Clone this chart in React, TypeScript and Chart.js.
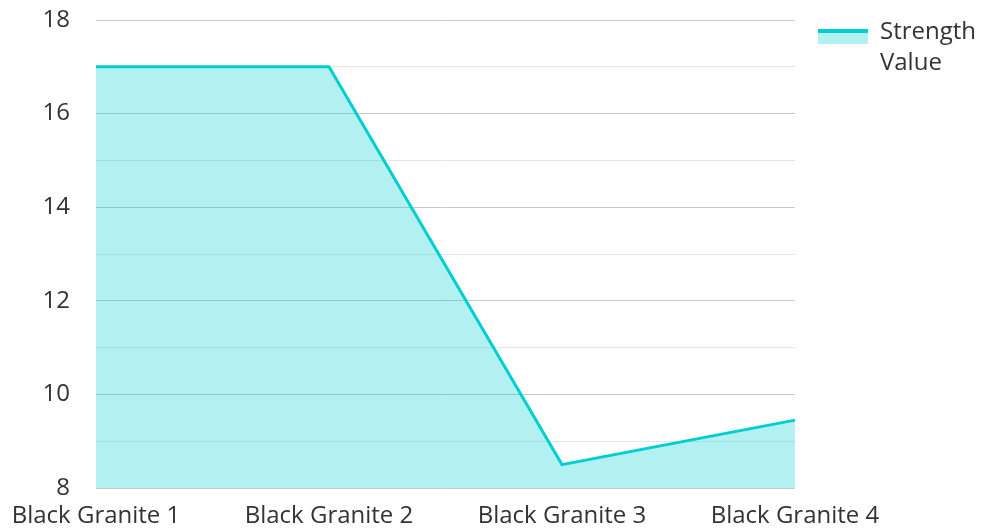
import React, { useEffect, useRef } from "react";
import { Chart, registerables } from "chart.js";

Chart.register(...registerables);

const categories = ["Black Granite 1", "Black Granite 2", "Black Granite 3", "Black Granite 4"];
const strengthValues = [17, 17, 8.5, 9.45];
const seriesLabel = "Strength Value";
const legendLines = ["Strength", "Value"];

const LINE = "#00CED1";
const FILL = "rgba(0, 206, 209, 0.3)";
const TEXT = "#333333";
const FONT = "'Open Sans', 'Noto Sans', sans-serif";

function makeLegendIcon(): HTMLCanvasElement {
  const c = document.createElement("canvas");
  c.width = 72;
  c.height = 24;
  const ctx = c.getContext("2d")!;
  ctx.fillStyle = FILL;
  ctx.fillRect(22, 9, 50, 15);
  ctx.fillStyle = LINE;
  ctx.fillRect(22, 9, 50, 4);
  return c;
}

export default function App() {
  const ref = useRef<HTMLCanvasElement | null>(null);

  useEffect(() => {
    document.body.style.margin = "0";
    if (!ref.current) return;
    const icon = makeLegendIcon();
    const chart = new Chart(ref.current, {
      type: "line",
      data: {
        labels: categories,
        datasets: [
          {
            label: seriesLabel,
            data: strengthValues,
            borderColor: LINE,
            backgroundColor: FILL,
            borderWidth: 3,
            fill: "start",
            pointRadius: 0,
            tension: 0,
          },
        ],
      },
      options: {
        animation: false,
        responsive: false,
        maintainAspectRatio: false,
        layout: { padding: 0 },
        plugins: {
          tooltip: { enabled: false },
          legend: {
            position: "right",
            align: "start",
            title: { display: true, text: "", font: { size: 1, lineHeight: 1 }, padding: { top: 18, bottom: 0 } },
            labels: {
              usePointStyle: true,
              pointStyle: icon as any,
              pointStyleWidth: 72,
              boxWidth: 72,
              boxHeight: 15,
              color: TEXT,
              font: { family: FONT, size: 24, lineHeight: 1.3 },
              padding: 1,
              generateLabels: (ch: any) => {
                const items = Chart.defaults.plugins.legend.labels.generateLabels(ch);
                return items.map((it: any) => ({ ...it, text: legendLines, pointStyle: icon }));
              },
            },
          },
        },
        scales: {
          x: {
            offset: false,
            grid: { display: false, drawTicks: false },
            border: { display: false },
            ticks: { color: TEXT, font: { family: FONT, size: 24 }, padding: 14, maxRotation: 0, autoSkip: false },
            afterFit: (s: any) => {
              s.height = 41;
              s.paddingLeft = 96;
              s.paddingRight = 0;
            },
          },
          y: {
            min: 8,
            max: 18,
            grid: {
              drawTicks: false,
              color: (ctx: any) => (ctx.tick && ctx.tick.value % 2 === 0 ? "#c8c8c8" : "#e6e6e6"),
              lineWidth: 1,
            },
            border: { display: false },
            ticks: {
              stepSize: 1,
              autoSkip: false,
              color: TEXT,
              font: { family: FONT, size: 24 },
              padding: 26,
              callback: (v: any) => (Number(v) % 2 === 0 ? String(v) : ""),
            },
            afterFit: (s: any) => {
              s.paddingTop = 20;
              s.paddingBottom = 0;
            },
          },
        },
      },
    });
    return () => chart.destroy();
  }, []);

  return (
    <div style={{ width: 986, height: 529 }}>
      <canvas ref={ref} width={986} height={529} style={{ width: 986, height: 529, display: "block" }} />
    </div>
  );
}
